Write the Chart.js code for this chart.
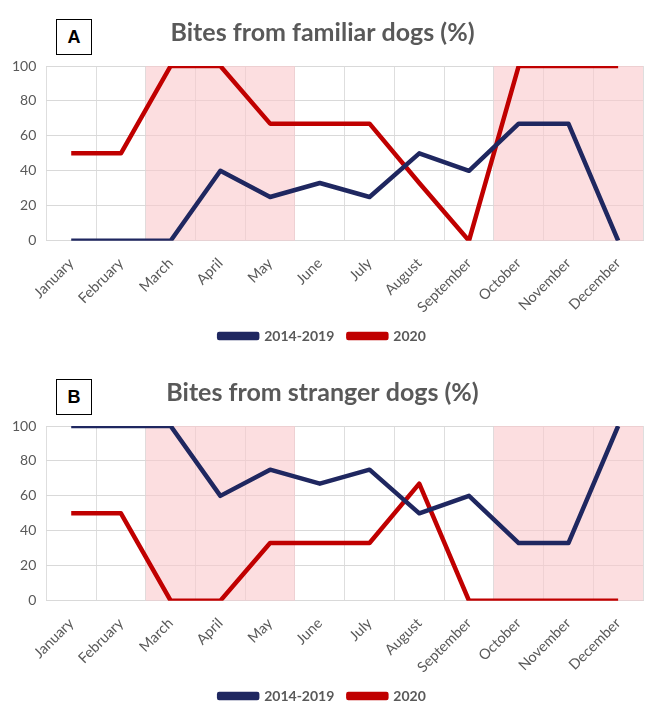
<!DOCTYPE html>
<html>
<head>
<meta charset="utf-8">
<script src="https://cdn.jsdelivr.net/npm/chart.js@4"></script>
<style>
  body { margin: 0; background: #fff; font-family: Lato, sans-serif; }
  .panel { position: relative; width: 660px; height: 360px; }
  .tag {
    position: absolute; left: 56px; top: 19px; width: 34px; height: 34px;
    border: 1px solid #000; background: #fff; z-index: 2;
    font: bold 18px "Liberation Sans", Arial, sans-serif; color: #000;
    display: flex; align-items: center; justify-content: center;
  }
</style>
</head>
<body>
<div class="panel"><div class="tag">A</div><canvas id="chartA" width="660" height="360"></canvas></div>
<div class="panel"><div class="tag">B</div><canvas id="chartB" width="660" height="360"></canvas></div>
<script>
const months = ['January', 'February', 'March', 'April', 'May', 'June', 'July',
                'August', 'September', 'October', 'November', 'December'];
const seriesNames = ['2014-2019', '2020'];

// Panel A - familiar dogs
const familiarBaseline = [0, 0, 0, 40, 25, 33, 25, 50, 40, 67, 67, 0];
const familiar2020 = [50, 50, 100, 100, 67, 67, 67, 33, 0, 100, 100, 100];

// Panel B - stranger dogs
const strangerBaseline = [100, 100, 100, 60, 75, 67, 75, 50, 60, 33, 33, 100];
const stranger2020 = [50, 50, 0, 0, 33, 33, 33, 67, 0, 0, 0, 0];

const yTicks = [0, 20, 40, 60, 80, 100];
// shaded month ranges (first, last)
const shadedRanges = [['March', 'May'], ['October', 'December']];

const navy = '#1f2760';
const red = '#c00000';
const grey = '#595959';

const shadePlugin = {
    id: 'shade',
    beforeDatasetsDraw(chart) {
        const { ctx, chartArea, scales } = chart;
        const x = scales.x;
        const half = (x.getPixelForValue(1) - x.getPixelForValue(0)) / 2;
        ctx.save();
        ctx.fillStyle = 'rgba(250, 200, 204, 0.6)';
        shadedRanges.forEach(([a, b]) => {
            const x0 = x.getPixelForValue(months.indexOf(a)) - half;
            const x1 = x.getPixelForValue(months.indexOf(b)) + half;
            ctx.fillRect(x0, chartArea.top, x1 - x0, chartArea.bottom - chartArea.top);
        });
        ctx.restore();
    }
};

function makeChart(id, title, baseline, current) {
    new Chart(document.getElementById(id), {
        type: 'line',
        data: {
            labels: months,
            datasets: [
                {
                    label: seriesNames[0],
                    data: baseline,
                    borderColor: navy,
                    backgroundColor: navy,
                    borderWidth: 4.5,
                    borderJoinStyle: 'round',
                    pointRadius: 0,
                    tension: 0
                },
                {
                    label: seriesNames[1],
                    data: current,
                    borderColor: red,
                    backgroundColor: red,
                    borderWidth: 4.5,
                    borderJoinStyle: 'round',
                    pointRadius: 0,
                    tension: 0
                }
            ]
        },
        plugins: [shadePlugin],
        options: {
            responsive: false,
            animation: false,
            layout: { padding: { left: 2, right: 17, top: 0, bottom: 7 } },
            plugins: {
                title: {
                    display: true,
                    text: title,
                    color: grey,
                    font: { family: 'Lato', size: 25, weight: 'bold' },
                    padding: { top: 18, bottom: 18 }
                },
                legend: {
                    position: 'bottom',
                    labels: {
                        boxWidth: 38,
                        boxHeight: 4,
                        color: grey,
                        font: { family: 'Lato', size: 14, weight: 'bold' },
                        padding: 14
                    }
                },
                tooltip: { enabled: false }
            },
            scales: {
                x: {
                    offset: true,
                    afterFit(axis) { axis.height -= 15; },
                    grid: { color: 'rgba(200, 200, 200, 0.6)', drawTicks: false, offset: true },
                    border: { color: '#d9d9d9' },
                    ticks: {
                        color: grey,
                        font: { family: 'Lato', size: 14.5 },
                        minRotation: 45,
                        maxRotation: 45,
                        padding: 14
                    }
                },
                y: {
                    min: 0,
                    max: 100,
                    afterBuildTicks(axis) { axis.ticks = yTicks.map(v => ({ value: v })); },
                    grid: { color: '#d9d9d9', drawTicks: false },
                    border: { display: false },
                    ticks: {
                        color: grey,
                        font: { family: 'Lato', size: 14 },
                        padding: 10
                    }
                }
            }
        }
    });
}

makeChart('chartA', 'Bites from familiar dogs (%)', familiarBaseline, familiar2020);
makeChart('chartB', 'Bites from stranger dogs (%)', strangerBaseline, stranger2020);
</script>
</body>
</html>
